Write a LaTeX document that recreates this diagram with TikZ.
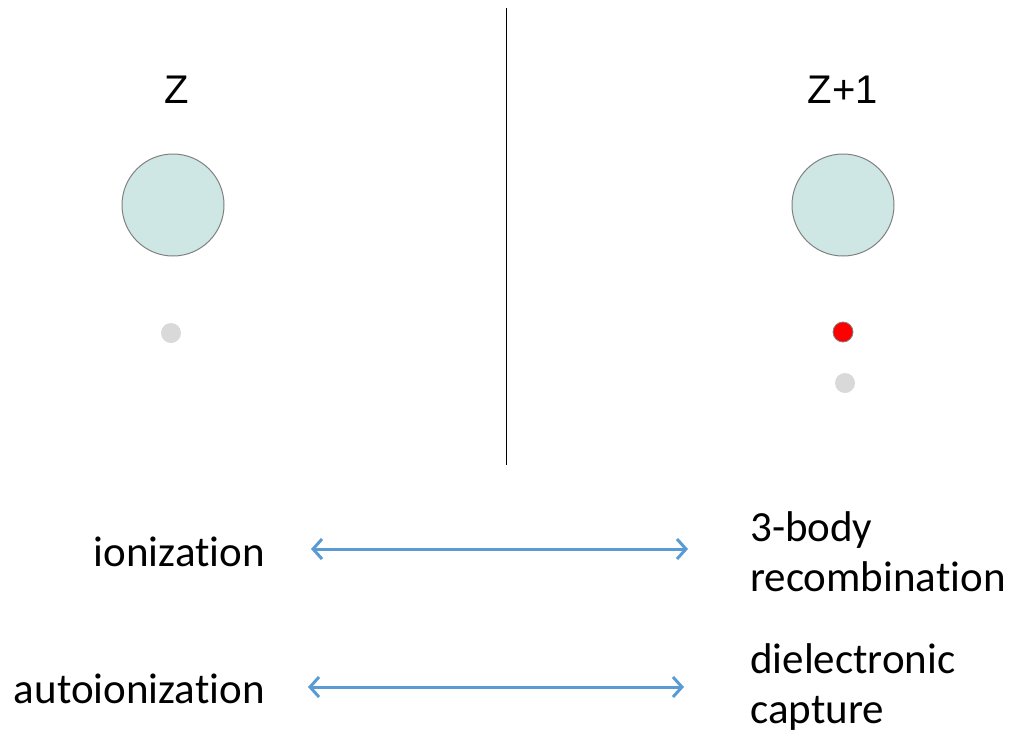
\documentclass[tikz,border=0pt]{standalone}
\usepackage{fontspec}
\setmainfont{Carlito}[RawFeature=-liga]
\newfontfamily\zfont{Liberation Sans}
\usetikzlibrary{positioning,arrows.meta}
\tikzset{
	>={Straight Barb[length=9pt,width=20pt]}
}

\begin{document}
\begin{tikzpicture}[
	x = 1pt, y = -1pt,
	node distance = 2mm,
	every node/.style = {
		font = \fontsize{43}{50}\selectfont,
		inner sep = 0pt
	},
	charge/.style = {
		font = \zfont\fontsize{40}{48}\selectfont
	},
	ion/.style = {
		circle,
		draw = gray,
		line width = 1pt,
		fill = {rgb,255:red,207;green,231;blue,228},
		minimum size = 102pt
	},
	electron/.style = {
		circle,
		fill = {rgb,255:red,217;green,217;blue,217},
		minimum size = 20pt
	},
	captured/.style = {
		electron,
		draw = gray,
		line width = 0.8pt,
		fill = red
	},
	process/.style = {
		<->,
		line width = 3pt,
		draw = {rgb,255:red,91;green,155;blue,213}
	}
	]
	\useasboundingbox (0,0) rectangle (1010,737);
	
	\node (ion_Z) [ion] at (173,205) {};
	\node (lab_Z) [charge] at (177,90) {Z};
	\node (el_Z) [electron] at (171,333) {};
	
	\node (ion_Z1) [ion] at (843,205) {};
	\node (lab_Z1) [charge] at (843,90) {Z+1};
	\node (el_red) [captured] at (843,332) {};
	\node (el_Z1) [electron] at (845,383) {};
	
	\coordinate (sep_top) at (506,8);
	\coordinate (sep_bot) at (506,465);
	\draw[line width=1pt] (sep_top) -- (sep_bot);
	
	\node (ionization) [anchor=east] at (265,552) {ionization};
	\node (recomb) [anchor=west, align=left] at (750,552) {3-body\\recombination};
	\node (autoion) [anchor=east] at (265,689) {autoionization};
	\node (dielec) [anchor=west, align=left] at (750,687) {dielectronic\\capture};
	
	\coordinate (ion_l) at (311,549);
	\coordinate (ion_r) at (688,549);
	\coordinate (auto_l) at (308,687);
	\coordinate (auto_r) at (684,687);
	\draw[process] (ion_l) -- (ion_r);
	\draw[process] (auto_l) -- (auto_r);
	
\end{tikzpicture}
\end{document}
